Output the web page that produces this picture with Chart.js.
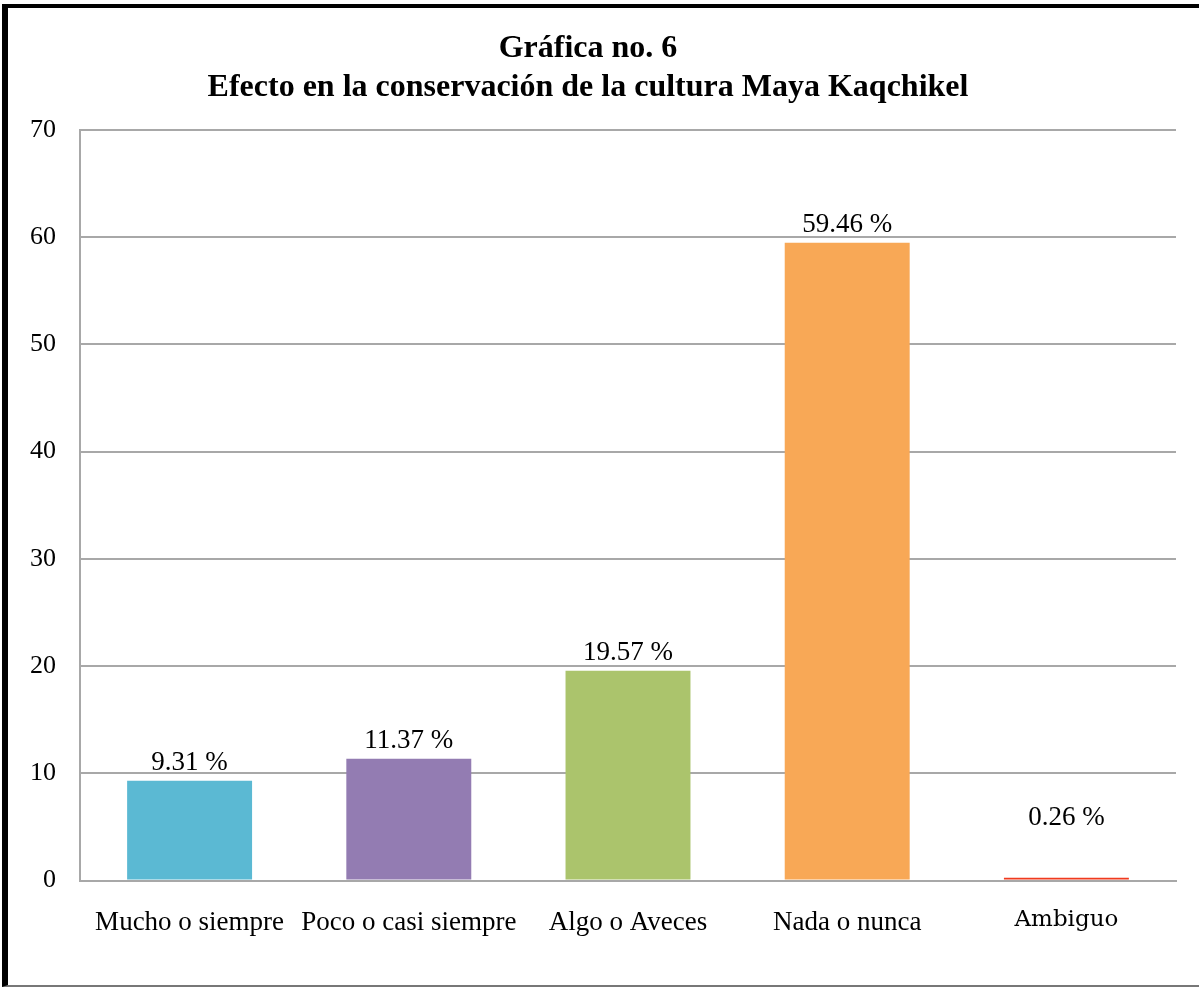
<!DOCTYPE html>
<html>
<head>
<meta charset="utf-8">
<script src="https://cdn.jsdelivr.net/npm/chart.js@4.4.1/dist/chart.umd.min.js"></script>
<style>
  html, body { margin: 0; padding: 0; background: #fff; overflow: hidden; }
  #frame {
    position: absolute; left: 2px; top: 4px; width: 1197px; height: 983px;
    border-left: 6px solid #000; border-top: 4px solid #000; border-bottom: 2px solid #777;
    box-sizing: border-box;
  }
  #wrap { position: absolute; left: 0; top: 0; width: 1199px; height: 989px; }
</style>
</head>
<body>
<div id="frame"></div>
<div id="wrap"><canvas id="barChart" width="1199" height="989"></canvas></div>
<script>
const categories = ['Mucho o siempre', 'Poco o casi siempre', 'Algo o Aveces', 'Nada o nunca', 'Ambiguo'];
const percentages = [9.31, 11.37, 19.57, 59.46, 0.26];
const valueLabels = ['9.31 %', '11.37 %', '19.57 %', '59.46 %', '0.26 %'];
const barColors = ['#5BB9D3', '#937CB2', '#ABC46C', '#F8A856', '#F03A1E'];
const titleLines = ['Gráfica no. 6', 'Efecto en la conservación de la cultura Maya Kaqchikel'];

// labels above the bars; tiny bars get their label lifted a bit
const valueLabelPlugin = {
  id: 'valueLabels',
  afterDatasetsDraw(chart) {
    const ctx = chart.ctx;
    const meta = chart.getDatasetMeta(0);
    const y = chart.scales.y;
    ctx.save();
    ctx.font = '27px "Liberation Serif"';
    ctx.fillStyle = '#000';
    ctx.textAlign = 'center';
    ctx.textBaseline = 'alphabetic';
    meta.data.forEach((bar, i) => {
      const v = Math.max(percentages[i], 4.2);
      ctx.fillText(valueLabels[i], bar.x, y.getPixelForValue(v) - 11);
    });
    ctx.restore();
  }
};

const barCtx = document.getElementById('barChart').getContext('2d');
new Chart(barCtx, {
  type: 'bar',
  data: {
    labels: categories,
    datasets: [{
      data: percentages,
      backgroundColor: barColors,
      borderWidth: 0,
      categoryPercentage: 0.57,
      barPercentage: 1.0
    }]
  },
  options: {
    responsive: false,
    animation: false,
    devicePixelRatio: 1,
    layout: { padding: { left: 0, right: 23, top: 0, bottom: 24 } },
    scales: {
      y: {
        min: 0,
        max: 70,
        ticks: {
          stepSize: 10,
          color: '#000',
          padding: 24,
          font: { family: 'Liberation Serif', size: 26 }
        },
        grid: { color: '#a8a8a8', lineWidth: 2, drawTicks: false },
        border: { color: '#a8a8a8', width: 2 },
        afterFit(scale) { scale.width = 80; }
      },
      x: {
        ticks: {
          color: '#000',
          padding: 26,
          maxRotation: 0,
          minRotation: 0,
          autoSkip: false,
          font: ctx => ctx.index === 4
            ? { family: 'DejaVu Serif', size: 23 }
            : { family: 'Liberation Serif', size: 27 }
        },
        grid: { display: false, drawTicks: false },
        border: { color: '#a8a8a8', width: 2 }
      }
    },
    plugins: {
      legend: { display: false },
      tooltip: { enabled: false },
      title: {
        display: true,
        text: titleLines,
        color: '#000',
        font: { family: 'Liberation Serif', size: 32, weight: 'bold', lineHeight: 1.23 },
        padding: { top: 29, bottom: 22 }
      }
    }
  },
  plugins: [valueLabelPlugin]
});
</script>
</body>
</html>
